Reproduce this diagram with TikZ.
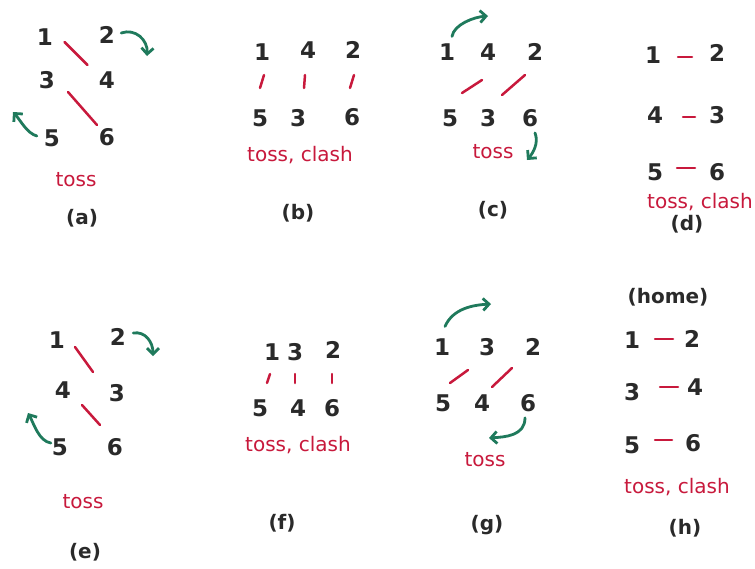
\documentclass[tikz,border=0pt]{standalone}
\usepackage{fontspec}
\setmainfont{DejaVu Sans}
\usetikzlibrary{calc,arrows.meta}
\definecolor{ink}{HTML}{2A2A2A}
\definecolor{redink}{HTML}{C8193C}
\definecolor{greenink}{HTML}{1F7A5C}
\begin{document}
\begin{tikzpicture}[x=1pt,y=-1pt,
  num/.style={font=\fontsize{23}{23}\selectfont\bfseries, text=ink, inner sep=0pt},
  note/.style={font=\fontsize{20}{20}\selectfont, text=redink, inner sep=0pt},
  caplabel/.style={font=\fontsize{20}{20}\selectfont\bfseries, text=ink, inner sep=0pt},
  pair/.style={draw=redink, line width=2.5pt, line cap=round},
  move/.style={draw=greenink, line width=2.8pt, line cap=round, -{Straight Barb[length=6pt,width=12pt]}}]
\fill[white] (0,0) rectangle (755,568);
\useasboundingbox (0,0) rectangle (755,568);

% ---------- (a)
\node[num] (a1) at (45,37) {1};
\node[num] (a2) at (107,35) {2};
\node[num] (a3) at (47,80) {3};
\node[num] (a4) at (107,80) {4};
\node[num] (a5) at (52,138) {5};
\node[num] (a6) at (107,137) {6};
\node[note] (at) at (76,180) {toss};
\node[caplabel] (al) at (82,218) {(a)};
\draw[pair] ($(a1)!.5!(a4)+(-11.5,-16.5)$) -- ++(23,23);
\draw[pair] ($(a3)!.5!(a6)+(-9,-16.5)$) -- ++(29,33);
\coordinate (a2e) at (147,56);
\coordinate (a5e) at (13,112);
\draw[move] ($(a2.east)+(6,-2)$) .. controls +(14,-5) and +(1,-16) .. (a2e);
\draw[move] ($(a5.west)+(-7,-2)$) .. controls +(-10,-3) and +(8,9) .. (a5e);

% ---------- (b)
\node[num] (b1) at (262,52) {1};
\node[num] (b4) at (308,50) {4};
\node[num] (b2) at (353,50) {2};
\node[num] (b5) at (260,118) {5};
\node[num] (b3) at (298,118) {3};
\node[num] (b6) at (352,117) {6};
\node[note] (bt) at (300,155) {toss, clash};
\node[caplabel] (bl) at (298,213) {(b)};
\draw[pair] ($(b1)!.5!(b5)+(-1,3)$) -- ++(4,-13);
\draw[pair] ($(b4)!.5!(b3)+(1,4)$) -- ++(1,-13);
\draw[pair] ($(b2)!.5!(b6)+(-2.5,4.5)$) -- ++(4,-13);

% ---------- (c)
\node[num] (c1) at (447,52) {1};
\node[num] (c4) at (488,52) {4};
\node[num] (c2) at (535,52) {2};
\node[num] (c5) at (450,118) {5};
\node[num] (c3) at (488,118) {3};
\node[num] (c6) at (530,118) {6};
\node[note] (ct) at (493,152) {toss};
\node[caplabel] (cl) at (493,210) {(c)};
\draw[pair] ($(c5)!.5!(c4)+(-7,8)$) -- ++(20,-13);
\draw[pair] ($(c3)!.5!(c2)+(-9.5,10)$) -- ++(23,-20);
\coordinate (c1e) at (488,16);
\coordinate (c6e) at (527,160);
\draw[move] ($(c1.north)+(5,-7)$) .. controls +(2,-12) and +(-14,1) .. (c1e);
\draw[move] ($(c6.south)+(5,6)$) .. controls +(4,10) and +(6,-7) .. (c6e);

% ---------- (d)
\node[num] (d1) at (653,55) {1};
\node[num] (d2) at (717,53) {2};
\node[num] (d4) at (655,115) {4};
\node[num] (d3) at (717,115) {3};
\node[num] (d5) at (655,172) {5};
\node[num] (d6) at (717,172) {6};
\node[note] (dt) at (700,202) {toss, clash};
\node[caplabel] (dl) at (687,224) {(d)};
\draw[pair] ($(d1)!.5!(d2)+(-7,3)$) -- ++(14,0);
\draw[pair] ($(d4)!.5!(d3)+(-3,2)$) -- ++(12,0);
\draw[pair] ($(d5)!.5!(d6)+(-9,-4)$) -- ++(18,0);

% ---------- (e)
\node[num] (e1) at (57,340) {1};
\node[num] (e2) at (118,337) {2};
\node[num] (e4) at (63,390) {4};
\node[num] (e3) at (117,393) {3};
\node[num] (e5) at (60,447) {5};
\node[num] (e6) at (115,447) {6};
\node[note] (et) at (83,502) {toss};
\node[caplabel] (el) at (85,552) {(e)};
\draw[pair] ($(e1)!.5!(e3)+(-12,-19.5)$) -- ++(18,25);
\draw[pair] ($(e4)!.5!(e6)+(-7,-13.5)$) -- ++(18,20);
\coordinate (e2e) at (153,356);
\coordinate (e5e) at (28,413);
\draw[move] ($(e2.east)+(7,-4)$) .. controls +(12,-2) and +(0,-14) .. (e2e);
\draw[move] ($(e5.west)+(-1,-4)$) .. controls +(-12,-2) and +(6,11) .. (e5e);

% ---------- (f)
\node[num] (f1) at (272,352) {1};
\node[num] (f3) at (295,352) {3};
\node[num] (f2) at (333,350) {2};
\node[num] (f5) at (260,408) {5};
\node[num] (f4) at (298,408) {4};
\node[num] (f6) at (332,408) {6};
\node[note] (ft) at (298,445) {toss, clash};
\node[caplabel] (fl) at (282,523) {(f)};
\draw[pair] ($(f1)!.5!(f5)+(1,3)$) -- ++(3,-9);
\draw[pair] ($(f3)!.5!(f4)+(-1.5,3)$) -- ++(0,-9);
\draw[pair] ($(f2)!.5!(f6)+(-0.5,4)$) -- ++(0,-9);

% ---------- (g)
\node[num] (g1) at (442,347) {1};
\node[num] (g3) at (487,347) {3};
\node[num] (g2) at (533,347) {2};
\node[num] (g5) at (443,403) {5};
\node[num] (g4) at (482,403) {4};
\node[num] (g6) at (528,403) {6};
\node[note] (gt) at (485,460) {toss};
\node[caplabel] (gl) at (487,525) {(g)};
\draw[pair] ($(g5)!.5!(g3)+(-15,8)$) -- ++(18,-13);
\draw[pair] ($(g4)!.5!(g2)+(-15.5,12)$) -- ++(20,-19);
\coordinate (g1e) at (491,304);
\coordinate (g6e) at (489,438);
\draw[move] ($(g1.north)+(3,-12)$) .. controls +(8,-18) and +(-18,1) .. (g1e);
\draw[move] ($(g6.south)+(-3,6)$) .. controls +(0,18) and +(16,-1) .. (g6e);

% ---------- (h)
\node[caplabel] (hh) at (668,297) {(home)};
\node[num] (h1) at (632,340) {1};
\node[num] (h2) at (692,339) {2};
\node[num] (h3) at (632,392) {3};
\node[num] (h4) at (695,387) {4};
\node[num] (h5) at (632,445) {5};
\node[num] (h6) at (693,443) {6};
\node[note] (ht) at (677,487) {toss, clash};
\node[caplabel] (hl) at (685,528) {(h)};
\draw[pair] ($(h1)!.5!(h2)+(-7,-0.5)$) -- ++(18,0);
\draw[pair] ($(h3)!.5!(h4)+(-3.5,-2.5)$) -- ++(18,0);
\draw[pair] ($(h5)!.5!(h6)+(-7.5,-4)$) -- ++(17,0);
\end{tikzpicture}
\end{document}
